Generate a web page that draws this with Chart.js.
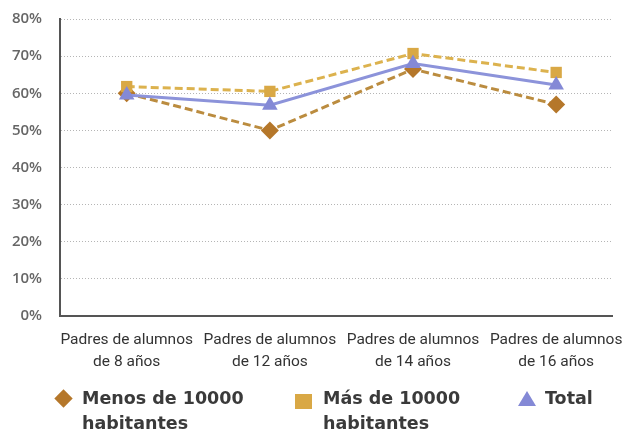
<!DOCTYPE html>
<html>
<head>
<meta charset="utf-8">
<script src="https://cdn.jsdelivr.net/npm/chart.js@4.4.0/dist/chart.umd.min.js"></script>
<style>
  body { margin: 0; background: #fff; }
  #wrap { position: relative; width: 630px; height: 431px; overflow: hidden; }
  #legend { position: absolute; left: 0; top: 386px; width: 630px; height: 60px;
    font-family: "DejaVu Sans", sans-serif; font-weight: bold; font-size: 17.5px; color: #3a3a3a; }
  .item { position: absolute; top: 0; line-height: 25px; }
  .item span { display: block; }
  .mark { position: absolute; }
</style>
</head>
<body>
<div id="wrap">
  <canvas id="chart" width="630" height="431"></canvas>
  <div id="legend"></div>
</div>
<script>
// categories (two-line labels)
const categories = [
  ['Padres de alumnos', 'de 8 años'],
  ['Padres de alumnos', 'de 12 años'],
  ['Padres de alumnos', 'de 14 años'],
  ['Padres de alumnos', 'de 16 años']
]
// series values, in %
const menos = [60, 50, 66.5, 57]
const mas = [61.8, 60.5, 70.7, 65.6]
const total = [59.5, 56.8, 68, 62.2]
const yTicks = [0, 10, 20, 30, 40, 50, 60, 70, 80]

const legendNames = [
  ['Menos de 10000', 'habitantes'],
  ['Más de 10000', 'habitantes'],
  ['Total']
]

const toXY = (arr) => arr.map((v, i) => ({ x: i, y: v }))

const datasets = [
  {
    label: legendNames[0].join(' '),
    data: toXY(menos),
    borderColor: '#bb8c3f',
    backgroundColor: '#b5772a',
    borderWidth: 3,
    borderDash: [8, 4],
    pointStyle: 'rectRot',
    pointRadius: 9,
    pointBorderWidth: 0,
    order: 3
  },
  {
    label: legendNames[1].join(' '),
    data: toXY(mas),
    borderColor: '#dcb24e',
    backgroundColor: '#d9a845',
    borderWidth: 3,
    borderDash: [8, 4],
    pointStyle: 'rect',
    pointRadius: 8,
    pointBorderWidth: 0,
    order: 2
  },
  {
    label: legendNames[2].join(' '),
    data: toXY(total),
    borderColor: '#8c93da',
    backgroundColor: '#8489d6',
    borderWidth: 3,
    pointStyle: 'triangle',
    pointRadius: 9,
    pointBorderWidth: 0,
    order: 1
  }
]

new Chart(document.getElementById('chart'), {
  type: 'line',
  data: { datasets },
  options: {
    responsive: false,
    animation: false,
    layout: { padding: { top: 19, right: 18, left: 0, bottom: 0 } },
    plugins: { legend: { display: false }, tooltip: { enabled: false } },
    scales: {
      x: {
        type: 'linear',
        min: -0.466,
        max: 3.39,
        afterBuildTicks: (s) => { s.ticks = categories.map((c, i) => ({ value: i })) },
        afterFit: (s) => { s.height = 115; s.paddingLeft = 0; s.paddingRight = 0 },
        grid: { display: false, drawTicks: false },
        border: { display: true, color: '#555', width: 2 },
        ticks: {
          autoSkip: false,
          maxRotation: 0,
          padding: 13,
          color: '#333',
          font: { family: 'Roboto', size: 15.5, lineHeight: 1.42 },
          callback: (v) => categories[v]
        }
      },
      y: {
        min: 0,
        max: 80,
        afterBuildTicks: (s) => { s.ticks = yTicks.map(v => ({ value: v })) },
        afterFit: (s) => { s.width = 60; s.paddingTop = 0; s.paddingBottom = 0 },
        grid: { color: '#b5b5b5', lineWidth: 1, drawTicks: false },
        border: { display: true, color: '#555', width: 2, dash: [1, 2] },
        ticks: {
          padding: 18,
          color: '#666',
          font: { family: 'Open Sans', size: 15, weight: '600' },
          callback: (v) => v + '%'
        }
      }
    }
  }
})

// HTML legend (multi-line names)
const legendPos = [{ mark: 54, text: 82 }, { mark: 295, text: 323 }, { mark: 518, text: 545 }]
const legend = document.getElementById('legend')
datasets.forEach((d, i) => {
  const m = document.createElement('div')
  m.className = 'mark'
  const c = d.backgroundColor
  if (d.pointStyle === 'rectRot') {
    Object.assign(m.style, { left: legendPos[i].mark + 3 + 'px', top: '6px', width: '13px', height: '13px', background: c, transform: 'rotate(45deg)' })
  } else if (d.pointStyle === 'rect') {
    Object.assign(m.style, { left: legendPos[i].mark + 'px', top: '8px', width: '17px', height: '15px', background: c })
  } else {
    Object.assign(m.style, { left: legendPos[i].mark + 'px', top: '5px', width: '0', height: '0',
      borderLeft: '9px solid transparent', borderRight: '9px solid transparent', borderBottom: '15px solid ' + c })
  }
  legend.appendChild(m)
  const t = document.createElement('div')
  t.className = 'item'
  t.style.left = legendPos[i].text + 'px'
  legendNames[i].forEach(line => {
    const s = document.createElement('span')
    s.textContent = line
    t.appendChild(s)
  })
  legend.appendChild(t)
})
</script>
</body>
</html>
